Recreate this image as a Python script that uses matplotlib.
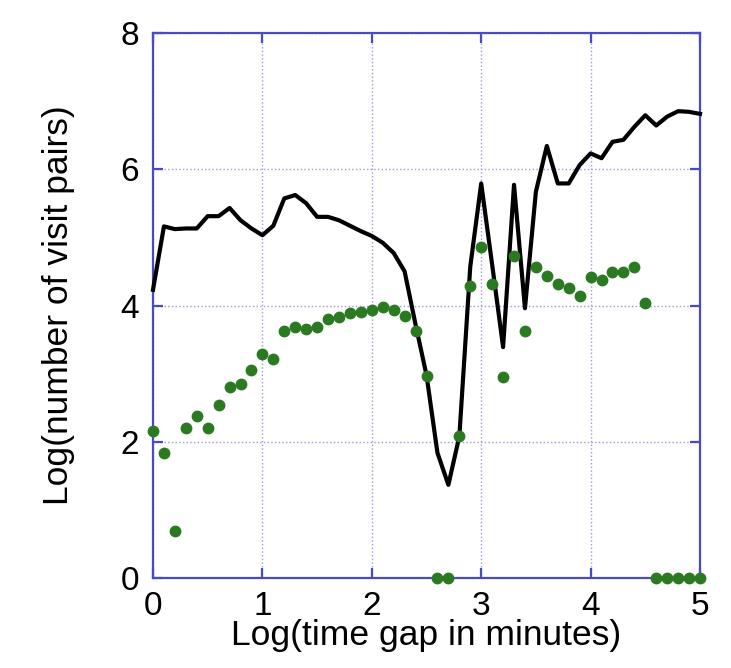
import numpy as np
import matplotlib.pyplot as plt

plt.rcParams['font.family'] = ['Liberation Sans', 'DejaVu Sans']

# log time gap, steps of 0.1
x_vals = [round(0.1 * i, 1) for i in range(51)]

# black line: log(number of visit pairs)
line_y = [4.23, 5.16, 5.12, 5.13, 5.13, 5.31, 5.31, 5.43, 5.25, 5.13,
          5.03, 5.17, 5.57, 5.62, 5.50, 5.30, 5.30, 5.25, 5.17, 5.09,
          5.02, 4.92, 4.77, 4.50, 3.72, 2.98, 1.84, 1.37, 2.08, 4.57,
          5.79, 4.60, 3.39, 5.77, 3.96, 5.67, 6.34, 5.79, 5.79, 6.06,
          6.23, 6.16, 6.40, 6.43, 6.62, 6.79, 6.64, 6.77, 6.85, 6.84,
          6.81]

# green dots
dot_y = [2.16, 1.84, 0.69, 2.20, 2.38, 2.20, 2.54, 2.81, 2.85, 3.06,
         3.29, 3.22, 3.62, 3.68, 3.66, 3.68, 3.80, 3.83, 3.89, 3.91,
         3.94, 3.98, 3.94, 3.85, 3.63, 2.97, 0.0, 0.0, 2.09, 4.28,
         4.86, 4.31, 2.95, 4.73, 3.63, 4.56, 4.43, 4.32, 4.26, 4.14,
         4.42, 4.37, 4.49, 4.49, 4.57, 4.03, 0.0, 0.0, 0.0, 0.0,
         0.0]

spine_col = '#4a4ac8'
grid_col = '#9a9ae0'

fig = plt.figure(figsize=(7.31, 6.68), dpi=100)
ax = fig.add_axes([0.2093, 0.1343, 0.7483, 0.8167])

ax.plot(x_vals, line_y, color='black', lw=3.0, zorder=3, clip_on=False)
ax.plot(x_vals, dot_y, 'o', color='#2b7a22', ms=7.5, mec='#2b7a22',
        zorder=4, clip_on=False)

ax.set_xlim(0, 5)
ax.set_ylim(0, 8)
ax.set_xticks([0, 1, 2, 3, 4, 5])
ax.set_yticks([0, 2, 4, 6, 8])
ax.grid(True, linestyle=':', color=grid_col, lw=1.0)
ax.set_axisbelow(True)

for s in ax.spines.values():
    s.set_color(spine_col)
    s.set_linewidth(1.6)

ax.tick_params(direction='in', length=7, width=1.6, color=spine_col,
               top=True, right=True, labelsize=24)
ax.tick_params(axis='x', pad=9)
ax.tick_params(axis='y', pad=10)

ax.set_xlabel('Log(time gap in minutes)', fontsize=25.5, labelpad=-2)
ax.set_ylabel('Log(number of visit pairs)', fontsize=25.5, labelpad=33)

plt.savefig('out.png', dpi=100)
